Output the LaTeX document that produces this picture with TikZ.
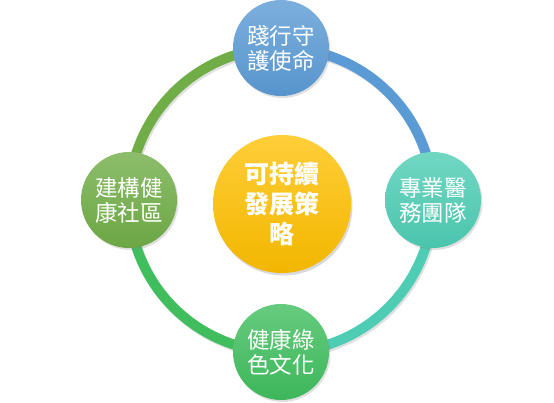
\documentclass[tikz,border=0pt]{standalone}
\usepackage{fontspec}
\newfontfamily\cjk{Noto Sans CJK TC}
\usetikzlibrary{shadows}

\definecolor{ringblue}{HTML}{5B9BD5}
\definecolor{ringteal}{HTML}{4ECDB4}
\definecolor{ringgreen}{HTML}{40BE5E}
\definecolor{ringolive}{HTML}{70AD47}
\definecolor{hubgold}{HTML}{FFC000}

\tikzset{
  petal/.style={circle, minimum size=96pt, inner sep=0pt, align=center,
    text=white, font=\cjk\fontsize{22.5}{25}\selectfont,
    top color=#1!80!white, bottom color=#1!96!black,
    drop shadow={opacity=0.25, shadow xshift=1.5pt, shadow yshift=-2pt}},
  hub/.style={circle, minimum size=138pt, inner sep=0pt, align=center,
    text=white, font=\cjk\bfseries\fontsize{25}{30}\selectfont,
    top color=hubgold!78!white, bottom color=hubgold!95!black,
    drop shadow={opacity=0.3, shadow xshift=1.5pt, shadow yshift=-2.5pt}},
  ringarc/.style={line width=10pt, #1},
}

\begin{document}
\begin{tikzpicture}[x=1pt, y=1pt]
    \useasboundingbox (-281,-203) rectangle (273,200);

    % --- ring: one quarter per circle, each in that circle's colour ---
    \foreach \s/\c in {0/ringblue, 90/ringolive, 180/ringgreen, 270/ringteal}{
      \draw[ringarc=black, opacity=0.12]
        (\s:152) ++(1.5,-2) arc[start angle=\s, end angle=\s+90, radius=152];
      \draw[ringarc=\c] (\s:152) arc[start angle=\s, end angle=\s+90, radius=152];
    }

    % --- centre and the four circles on the ring ---
    \node[hub] (core) at (1,-4) {可持續\\發展策\\略};
    \node[petal=ringblue] (mission) at (90:152) {踐行守\\護使命};
    \node[petal=ringteal] (team) at (0:152) {專業醫\\務團隊};
    \node[petal=ringgreen] (culture) at (270:152) {健康綠\\色文化};
    \node[petal=ringolive] (community) at (180:152) {建構健\\康社區};
  \end{tikzpicture}
\end{document}
